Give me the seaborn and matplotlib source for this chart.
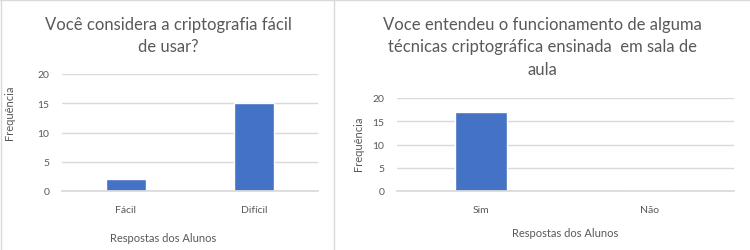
import matplotlib
matplotlib.use("Agg")
import matplotlib.pyplot as plt
import seaborn as sns
import pandas as pd
from matplotlib.lines import Line2D

# Data
cats_left = ["Fácil", "Difícil"]
vals_left = [2, 15]
cats_right = ["Sim", "Não"]
vals_right = [17, 0]

title_left = "Você considera a criptografia fácil\nde usar?"
title_right = "Voce entendeu o funcionamento de alguma\ntécnicas criptográfica ensinada  em sala de\naula"

BAR = "#4472C4"
TXT = "#595959"
GRID = "#D9D9D9"

sns.set_theme(style="white")
plt.rcParams["font.family"] = ["Lato", "DejaVu Sans"]

W, H = 750, 251
fig = plt.figure(figsize=(W / 100, H / 100), dpi=100)


def px(x0, y_top, w, h):
    # pixel box -> figure fraction
    return [x0 / W, (H - y_top - h) / H, w / W, h / H]


def draw(ax, cats, vals, xlabel_xy, ylabel_xy):
    df = pd.DataFrame({"cat": cats, "val": vals})
    sns.barplot(data=df, x="cat", y="val", hue="cat", palette=[BAR, BAR],
                width=0.31, legend=False, ax=ax, saturation=1)
    ax.set_ylim(0, 20)
    ax.set_yticks([0, 5, 10, 15, 20])
    ax.yaxis.grid(True, color=GRID, lw=1)
    ax.set_axisbelow(True)
    for s in ["top", "right", "left"]:
        ax.spines[s].set_visible(False)
    ax.spines["bottom"].set_color(GRID)
    ax.tick_params(axis="both", length=0, labelsize=7.5, colors=TXT)
    ax.tick_params(axis="x", pad=10)
    ax.tick_params(axis="y", pad=9)
    ax.set_xlabel("Respostas dos Alunos", fontsize=8, color=TXT)
    ax.set_ylabel("Frequência", fontsize=8, color=TXT)
    ax.xaxis.set_label_coords(*xlabel_xy)
    ax.yaxis.set_label_coords(*ylabel_xy)


ax1 = fig.add_axes(px(62, 75, 256, 117))
draw(ax1, cats_left, vals_left, (0.395, -0.35), (-0.184, 0.675))

ax2 = fig.add_axes(px(397, 99, 337, 93))
draw(ax2, cats_right, vals_right, (0.5, -0.39), (-0.098, 0.516))

fig.text(168 / W, 1 - 17 / H, title_left, ha="center", va="top",
         fontsize=12, color=TXT, linespacing=1.5)
fig.text(542 / W, 1 - 17 / H, title_right, ha="center", va="top",
         fontsize=12, color=TXT, linespacing=1.5)

# panel borders
fig.add_artist(Line2D([1 / W, 1 / W], [0, 1], color=GRID, lw=1, transform=fig.transFigure))
fig.add_artist(Line2D([334 / W, 334 / W], [0, 1], color=GRID, lw=1, transform=fig.transFigure))
fig.add_artist(Line2D([0, 1], [1 - 1 / H, 1 - 1 / H], color=GRID, lw=1, transform=fig.transFigure))

fig.savefig("out.png", dpi=100, facecolor="white")
